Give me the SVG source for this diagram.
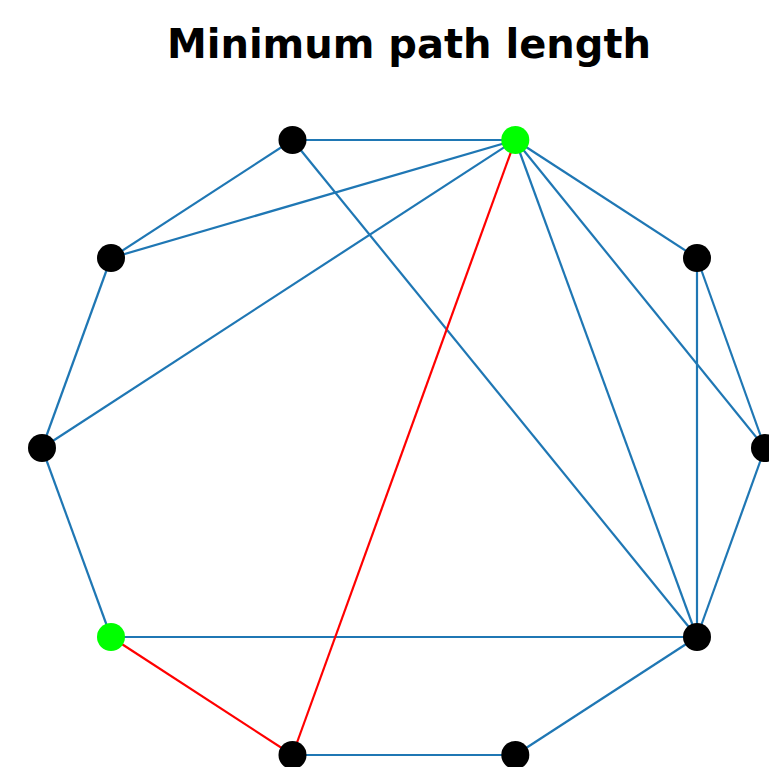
<svg xmlns="http://www.w3.org/2000/svg" width="769" height="767" viewBox="0 0 769 767">
<style>
.e{stroke:#1f77b4;stroke-width:2.2;fill:none}
.r{stroke:#ff0000;stroke-width:2.2;fill:none}
.n{fill:#000000}
.g{fill:#00ff00}
.t{font-family:"DejaVu Sans",sans-serif;font-weight:bold;font-size:40px;fill:#000}
</style>
<rect width="769" height="767" fill="#ffffff"/>
<text class="t" x="409" y="58" text-anchor="middle">Minimum path length</text>
<g id="edges">
<line class="e" x1="292.5" y1="140" x2="515.3" y2="140"/>
<line class="e" x1="292.5" y1="140" x2="111" y2="258"/>
<line class="e" x1="292.5" y1="140" x2="697" y2="637"/>
<line class="e" x1="515.3" y1="140" x2="111" y2="258"/>
<line class="e" x1="515.3" y1="140" x2="42" y2="448"/>
<line class="e" x1="515.3" y1="140" x2="697" y2="258"/>
<line class="e" x1="515.3" y1="140" x2="765" y2="448"/>
<line class="e" x1="515.3" y1="140" x2="697" y2="637"/>
<line class="e" x1="111" y1="258" x2="42" y2="448"/>
<line class="e" x1="697" y1="258" x2="765" y2="448"/>
<line class="e" x1="697" y1="258" x2="697" y2="637"/>
<line class="e" x1="42" y1="448" x2="111" y2="637"/>
<line class="e" x1="111" y1="637" x2="697" y2="637"/>
<line class="e" x1="765" y1="448" x2="697" y2="637"/>
<line class="e" x1="697" y1="637" x2="515.3" y2="755"/>
<line class="e" x1="292.5" y1="755" x2="515.3" y2="755"/>
<line class="r" x1="515.3" y1="140" x2="292.5" y2="755"/>
<line class="r" x1="111" y1="637" x2="292.5" y2="755"/>
</g>
<g id="node0"><circle class="n" cx="292.5" cy="140" r="14"/></g>
<g id="node1"><circle class="g" cx="515.3" cy="140" r="14"/></g>
<g id="node2"><circle class="n" cx="111" cy="258" r="14"/></g>
<g id="node3"><circle class="n" cx="697" cy="258" r="14"/></g>
<g id="node4"><circle class="n" cx="42" cy="448" r="14"/></g>
<g id="node5"><circle class="n" cx="765" cy="448" r="14"/></g>
<g id="node6"><circle class="g" cx="111" cy="637" r="14"/></g>
<g id="node7"><circle class="n" cx="697" cy="637" r="14"/></g>
<g id="node8"><circle class="n" cx="292.5" cy="755" r="14"/></g>
<g id="node9"><circle class="n" cx="515.3" cy="755" r="14"/></g>
</svg>
